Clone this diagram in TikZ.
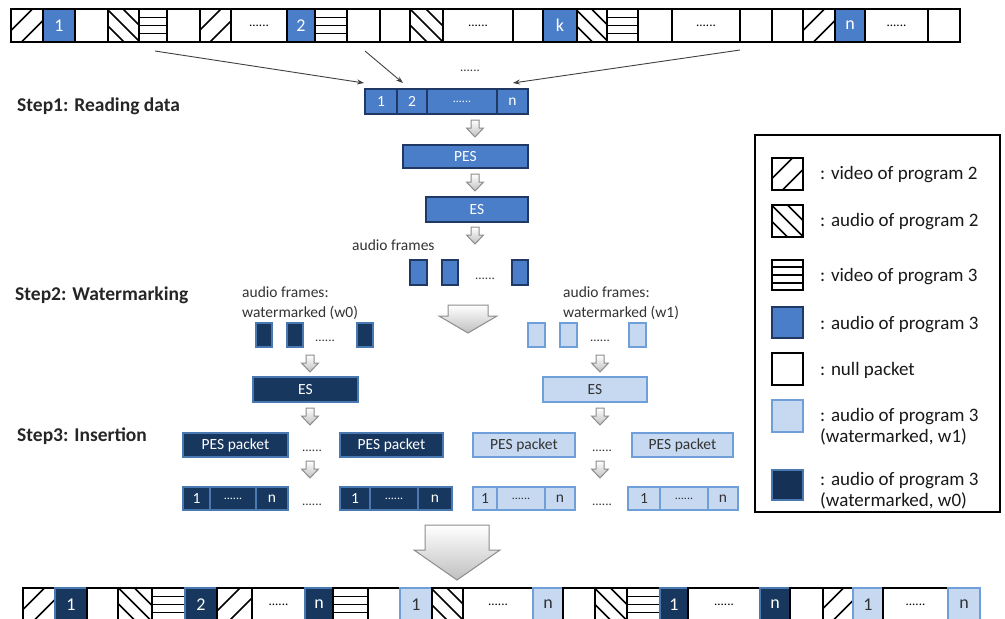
\documentclass[tikz,border=0pt]{standalone}
\usepackage{fontspec}
\setmainfont{Carlito}
\usetikzlibrary{arrows.meta}
\definecolor{athree}{HTML}{4A7EC8}
\definecolor{athreeline}{HTML}{1F3864}
\definecolor{wzero}{HTML}{17375E}
\definecolor{wzeroline}{HTML}{4A78B0}
\definecolor{wone}{HTML}{C6D9F1}
\definecolor{woneline}{HTML}{6E9FD9}
\definecolor{txtgray}{HTML}{333333}
\newcommand\pk[7]{\node[pkt,#6,minimum width={(#3-#2)*1pt},minimum height={(#5-#4)*1pt}] (#1) at ({(#2+#3)/2},{(#4+#5)/2}) {#7};}
\newcommand\blockarrow[7]{\draw[#7] (#1-#3,#2) -- (#1+#3,#2) -- (#1+#3,#5) -- (#1+#4,#5) -- (#1,#6) -- (#1-#4,#5) -- (#1-#3,#5) -- cycle;}
\begin{document}
\begin{tikzpicture}[x=1pt,y=-1pt,
 pkt/.style={draw=black,line width=1.8pt,inner sep=0pt,outer sep=0pt,font=\fontsize{18}{21}\selectfont},
 hatch/.style={line width=1.5pt,black},
 nul/.style={fill=white},
 dts/.style={fill=white,font=\fontsize{13}{15}\selectfont},
 vtwo/.style={fill=white,path picture={\foreach \hc in {-5.5,5.5}{\draw[hatch] ([shift={(\hc-30,\hc+30)}]path picture bounding box.center) -- ([shift={(\hc+30,\hc-30)}]path picture bounding box.center);}}},
 atwo/.style={fill=white,path picture={\foreach \ha/\hb in {-8/8,0/0,8/-8}{\draw[hatch] ([shift={(\ha-30,\hb-30)}]path picture bounding box.center) -- ([shift={(\ha+30,\hb+30)}]path picture bounding box.center);}}},
 vthree/.style={fill=white,path picture={\foreach \ho in {-8,0,8}{\draw[hatch] ([shift={(-30,\ho)}]path picture bounding box.center) -- ([shift={(30,\ho)}]path picture bounding box.center);}}},
 aud/.style={fill=athree,text=white},
 wz/.style={fill=wzero,draw=wzeroline,line width=1.5pt,text=white},
 wo/.style={fill=wone,draw=woneline,line width=1.5pt,text=txtgray},
 wzd/.style={wz,font=\fontsize{12}{14}\selectfont},
 wod/.style={wo,font=\fontsize{12}{14}\selectfont},
 bar/.style={fill=athree,draw=athreeline,line width=1.3pt,text=white,font=\fontsize{15.5}{18}\selectfont},
 bard/.style={bar,font=\fontsize{12}{14}\selectfont},
 box/.style={font=\fontsize{15.5}{18}\selectfont},
 steplbl/.style={anchor=west,inner sep=0pt,font=\bfseries\fontsize{19.5}{23}\selectfont,text=black!85},
 small/.style={anchor=west,inner sep=0pt,align=left,font=\fontsize{15.5}{20}\selectfont,text=black!80},
 dotlbl/.style={inner sep=0pt,font=\fontsize{13}{15}\selectfont,text=black!80},
 leg/.style={anchor=west,inner sep=0pt,align=left,font=\fontsize{19}{21}\selectfont,text=black!90},
 thinarrow/.style={draw=black!75,line width=0.9pt,-{Stealth[length=7pt,width=5pt]}},
 barrow/.style={draw=black!45,line width=1pt,top color=white,bottom color=black!25},
]
\useasboundingbox (0,0) rectangle (1005,619);
\fill[white] (0,0) rectangle (1005,619);

% ---------- top transport stream ----------
\foreach \xa/\xb/\ty/\lb [count=\i] in {
 11/43/vtwo/{}, 43/75/aud/1, 75/108/nul/{}, 108/139/atwo/{}, 139/167/vthree/{},
 167/200/nul/{}, 200/231/vtwo/{}, 231/287/dts/{......}, 287/315/aud/2, 315/347/vthree/{},
 347/380/nul/{}, 380/410/nul/{}, 410/443/atwo/{}, 443/513/dts/{......}, 513/543/nul/{},
 543/577/aud/k, 577/607/atwo/{}, 607/638/vthree/{}, 638/672/nul/{}, 672/740/dts/{......},
 740/772/nul/{}, 772/803/nul/{}, 803/835/vtwo/{}, 835/865/aud/n, 865/928/dts/{......},
 928/960/nul/{}}
 {\pk{t\i}{\xa}{\xb}{9}{42}{\ty}{\lb}}

% ---------- bottom transport stream ----------
\foreach \xa/\xb/\ty/\lb [count=\i] in {
 23/55/vtwo/{}, 55/87/wz/1, 87/118/nul/{}, 118/152/atwo/{}, 152/185/vthree/{},
 185/217/wz/2, 217/252/vtwo/{}, 252/305/dts/{......}, 305/333/wz/n, 333/368/vthree/{},
 368/400/nul/{}, 400/432/wo/1, 432/463/atwo/{}, 463/533/dts/{......}, 533/563/wo/n,
 563/595/nul/{}, 595/627/atwo/{}, 627/660/vthree/{}, 660/688/wz/1, 688/760/dts/{......},
 760/790/wz/n, 790/823/nul/{}, 823/853/vtwo/{}, 853/883/wo/1, 883/948/dts/{......},
 948/980/wo/n}
 {\pk{u\i}{\xa}{\xb}{588}{621}{\ty}{\lb}}

% ---------- step labels ----------
\node[steplbl] (st1) at (17,106) {Step1: Reading data};
\node[steplbl] (st2) at (15,295) {Step2: Watermarking};
\node[steplbl] (st3) at (17,436) {Step3: Insertion};

% ---------- step 1 ----------
\pk{r1}{365}{397}{89}{114}{bar}{1}
\pk{r2}{397}{427}{89}{114}{bar}{2}
\pk{r3}{427}{497}{89}{114}{bard}{......}
\pk{r4}{497}{528}{89}{114}{bar}{n}
\node[dotlbl] (topdots) at (470,71) {......};
\coordinate (s1) at (155,51);
\coordinate (s2) at (365,51);
\coordinate (s3) at (740,50);
\coordinate (e1) at (364,83);
\coordinate (e2) at (403,83);
\coordinate (e3) at (513,83);
\draw[thinarrow] (s1) -- (e1);
\draw[thinarrow] (s2) -- (e2);
\draw[thinarrow] (s3) -- (e3);

\blockarrow{475}{120}{4}{8.5}{128}{137}{barrow}
\pk{pes}{403}{528}{145}{168}{bar}{PES}
\blockarrow{475}{174}{4}{8.5}{182}{191}{barrow}
\pk{es}{426}{528}{197}{222}{bar}{ES}
\blockarrow{475}{227}{4}{8.5}{235}{244}{barrow}
\node[small] (af) at (352,245) {audio frames};
\pk{f1}{410}{427}{260}{285}{bar}{}
\pk{f2}{442}{458}{260}{285}{bar}{}
\pk{f3}{512}{528}{260}{285}{bar}{}
\node[dotlbl] (fd) at (485,279) {......};

% ---------- step 2 ----------
\blockarrow{468}{305}{20}{29}{316}{333}{barrow}
% left (w0)
\node[small] (afl) at (242,303) {audio frames:\\watermarked (w0)};
\pk{lf1}{256}{272}{323}{347}{wz}{}
\pk{lf2}{287}{303}{323}{347}{wz}{}
\pk{lf3}{357}{373}{323}{347}{wz}{}
\node[dotlbl] (lfd) at (325,341) {......};
\blockarrow{310}{355}{4}{8.5}{363}{372}{barrow}
\pk{les}{253}{358}{377}{402}{wz,box}{ES}
% right (w1)
\node[small] (afr) at (563,303) {audio frames:\\watermarked (w1)};
\pk{rf1}{528}{545}{323}{347}{wo}{}
\pk{rf2}{560}{577}{323}{347}{wo}{}
\pk{rf3}{629}{646}{323}{347}{wo}{}
\node[dotlbl] (rfd) at (600,341) {......};
\blockarrow{600}{355}{4}{8.5}{363}{372}{barrow}
\pk{res}{543}{647}{377}{402}{wo,box}{ES}

% ---------- step 3 ----------
\blockarrow{310}{408}{4}{8.5}{416}{425}{barrow}
\blockarrow{600}{408}{4}{8.5}{416}{425}{barrow}
\pk{lp1}{183}{288}{433}{457}{wz,box}{PES packet}
\pk{lp2}{340}{443}{433}{457}{wz,box}{PES packet}
\node[dotlbl] (lpd) at (312,451) {......};
\pk{rp1}{473}{575}{433}{457}{wo,box}{PES packet}
\pk{rp2}{632}{733}{433}{457}{wo,box}{PES packet}
\node[dotlbl] (rpd) at (602,451) {......};
\blockarrow{310}{461}{4}{8.5}{469}{478}{barrow}
\blockarrow{600}{461}{4}{8.5}{469}{478}{barrow}
\pk{la1}{183}{210}{487}{510}{wz,box}{1}
\pk{la2}{210}{256}{487}{510}{wzd}{......}
\pk{la3}{256}{288}{487}{510}{wz,box}{n}
\pk{lb1}{340}{370}{487}{510}{wz,box}{1}
\pk{lb2}{370}{418}{487}{510}{wzd}{......}
\pk{lb3}{418}{452}{487}{510}{wz,box}{n}
\node[dotlbl] (lad) at (312,505) {......};
\pk{ra1}{473}{497}{487}{510}{wo,box}{1}
\pk{ra2}{497}{545}{487}{510}{wod}{......}
\pk{ra3}{545}{575}{487}{510}{wo,box}{n}
\pk{rb1}{628}{660}{487}{510}{wo,box}{1}
\pk{rb2}{660}{708}{487}{510}{wod}{......}
\pk{rb3}{708}{738}{487}{510}{wo,box}{n}
\node[dotlbl] (rad) at (602,505) {......};
\blockarrow{457}{525}{32}{43}{550}{580}{barrow}

% ---------- legend ----------
\node[draw=black,line width=1.8pt,minimum width=245pt,minimum height=377pt,inner sep=0pt] (legend) at (877.5,323.5) {};
\pk{lg1}{772}{803}{158}{190}{vtwo}{}
\pk{lg2}{772}{803}{205}{237}{atwo}{}
\pk{lg3}{772}{803}{260}{290}{vthree}{}
\pk{lg4}{772}{803}{307}{338}{aud,draw=athreeline}{}
\pk{lg5}{772}{803}{353}{385}{nul}{}
\pk{lg6}{772}{803}{400}{432}{wo}{}
\pk{lg7}{772}{803}{470}{500}{wz,fill=wzero!90!black}{}
\node[leg] (lt1) at (820,175) {: video of program 2};
\node[leg] (lt2) at (820,222) {: audio of program 2};
\node[leg] (lt3) at (820,277) {: video of program 3};
\node[leg] (lt4) at (820,325) {: audio of program 3};
\node[leg] (lt5) at (820,370) {: null packet};
\node[leg] (lt6) at (820,427) {: audio of program 3\\(watermarked, w1)};
\node[leg] (lt7) at (820,491) {: audio of program 3\\(watermarked, w0)};
\end{tikzpicture}
\end{document}
